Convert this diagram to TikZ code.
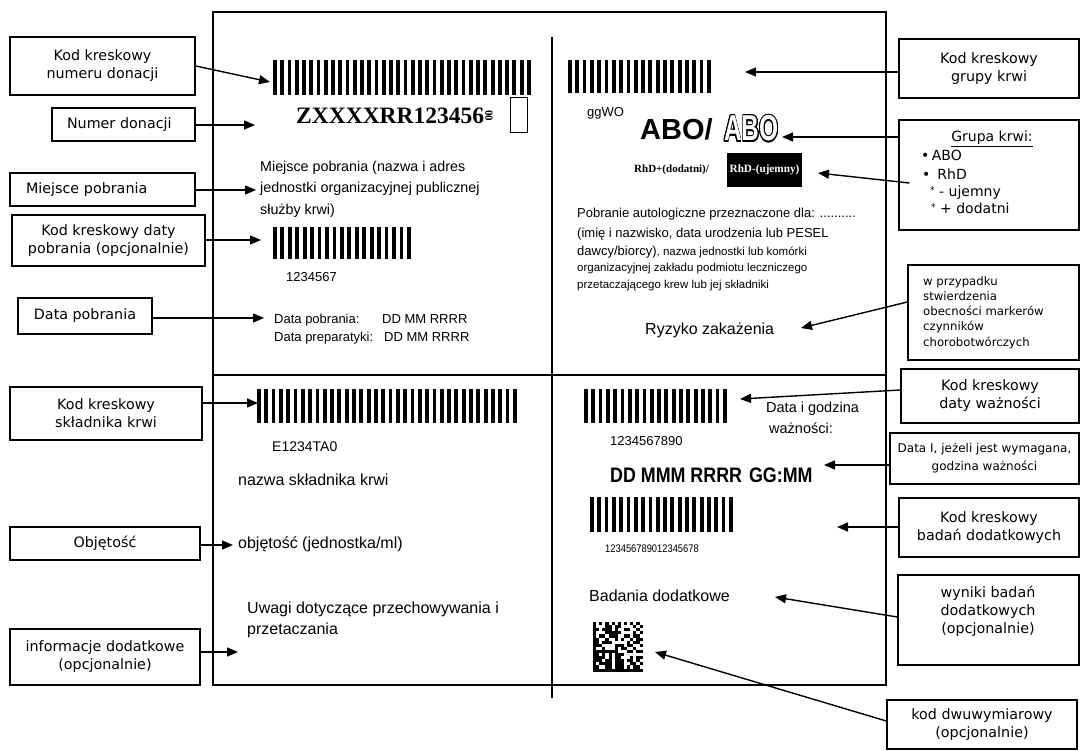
\documentclass[tikz,border=0pt]{standalone}
\usepackage{fontspec}
\setmainfont{Liberation Sans}
\newfontfamily\dv{DejaVu Sans}
\newfontfamily\ser{Liberation Serif}
\newfontfamily\narrow{Liberation Sans}[FakeStretch=0.85]
\usepackage{graphicx}
\usepackage{contour}
\contourlength{1.1pt}
\usetikzlibrary{arrows.meta,calc}
\newcommand\fs[2]{\fontsize{#1}{#2}\selectfont}
\newcommand\barcode[5]{%
  \pgfmathsetmacro\bcp{(#2-#1-4)/(#5-1)}%
  \foreach \k in {1,...,#5}{\fill ({#1+(\k-1)*\bcp},#3) rectangle ++(3.8,#4);}%
}
\begin{document}
\begin{tikzpicture}[x=1pt,y=-1pt,
  cbox/.style={draw, line width=1.4pt, inner sep=0pt, align=center, font=\dv\fs{14.3}{18}},
  arr/.style={line width=1.4pt, -{Triangle[length=11pt,width=9pt]}},
  frameline/.style={line width=1.2pt},
  txt/.style={anchor=base west, inner sep=0pt},
]
\useasboundingbox (0,0) rectangle (1081,751);
% frame
\draw[frameline] (213,12) rectangle (886,685);
\draw[frameline] (213,375) -- (886,375);
\draw[frameline] (552,37) -- (552,698);

% left callouts
\node[cbox, minimum width=185pt, minimum height=58pt] (L1) at (102.5,66) {Kod kreskowy\\numeru donacji};
\node[cbox, minimum width=143pt, minimum height=33pt, text width=113pt, align=left] (L2) at (123.5,124.5) {Numer donacji};
\node[cbox, minimum width=185pt, minimum height=33pt, text width=153pt, align=left] (L3) at (102.5,189.5) {Miejsce pobrania};
\node[cbox, minimum width=193pt, minimum height=51pt] (L4) at (108.5,240.5) {Kod kreskowy daty\\pobrania (opcjonalnie)};
\node[cbox, minimum width=134pt, minimum height=36pt] (L5) at (85,316) {Data pobrania};
\node[cbox, minimum width=192pt, minimum height=53pt] (L6) at (106,413.5) {Kod kreskowy\\składnika krwi};
\node[cbox, minimum width=190pt, minimum height=33pt] (L7) at (105,543.5) {Objętość};
\node[cbox, minimum width=190pt, minimum height=56pt] (L8) at (105,657) {informacje dodatkowe\\(opcjonalnie)};

% right callouts
\node[cbox, minimum width=180pt, minimum height=59pt] (R1) at (989,68.5) {Kod kreskowy\\grupy krwi};
\node[cbox, minimum width=180pt, minimum height=110pt] (R2) at (989,175) {};
\node[anchor=base, inner sep=0pt, font=\dv\fs{14}{14}] (R2h) at (992,142) {\underline{Grupa krwi:}};
\node[txt, font=\dv\fs{14}{14}] (R2a) at (921,161) {•\,ABO};
\node[txt, font=\dv\fs{14}{14}] (R2b) at (922,180) {•\enspace RhD};
\node[txt, font=\dv\fs{14}{14}] (R2c) at (930,197) {\raisebox{3pt}{\fs{9}{9}*} - ujemny};
\node[txt, font=\dv\fs{14}{14}] (R2d) at (931,214) {\raisebox{3pt}{\fs{9}{9}*} + dodatni};
\node[cbox, minimum width=171pt, minimum height=95pt] (R3) at (993.5,312.5) {};
\node[anchor=north west, align=left, inner sep=0pt, font=\dv\fs{11.7}{15.3}] (R3t) at (923,276) {w przypadku\\stwierdzenia\\obecności markerów\\czynników\\chorobotwórczych};
\node[cbox, minimum width=178pt, minimum height=54pt] (R4) at (990,396) {Kod kreskowy\\daty ważności};
\node[cbox, minimum width=189pt, minimum height=51pt, font=\dv\fs{12}{18}] (R5) at (984.5,458.5) {Data I, jeżeli jest wymagana,\\godzina ważności};
\node[cbox, minimum width=180pt, minimum height=59pt] (R6) at (989,527.5) {Kod kreskowy\\badań dodatkowych};
\node[cbox, minimum width=181pt, minimum height=90pt] (R7) at (988.5,620) {};
\node[align=center, inner sep=0pt, font=\dv\fs{14.3}{18}] (R7t) at (988,611) {wyniki badań\\dodatkowych\\(opcjonalnie)};
\node[cbox, minimum width=190pt, minimum height=49pt] (R8) at (982,724.5) {kod dwuwymiarowy\\(opcjonalnie)};

% top-left quadrant
\barcode{273}{531}{60}{35}{36}
\node[txt, font=\ser\bfseries\fs{23.5}{23.5}] (don) at (296,124) {ZXXXXRR123456};
\node[rotate=-90, inner sep=0pt, font=\ser\bfseries\fs{11}{11}] (zz) at (489,116) {00};
\node[draw, line width=1pt, minimum width=17pt, minimum height=35pt, inner sep=0pt] (sq) at (518.5,115.5) {};
\node[txt, font=\fs{14.3}{14.3}] (mp1) at (260,172) {Miejsce pobrania (nazwa i adres};
\node[txt, font=\fs{14.3}{14.3}] (mp2) at (260,193) {jednostki organizacyjnej publicznej};
\node[txt, font=\fs{14.3}{14.3}] (mp3) at (260,215) {służby krwi)};
\barcode{273}{411}{227}{32}{19}
\node[txt, font=\fs{13}{13}] (n1) at (286,282) {1234567};
\node[txt, font=\fs{13}{13}] (dp1) at (274,323) {Data pobrania:};
\node[txt, font=\fs{13}{13}] (dp2) at (382,323) {DD MM RRRR};
\node[txt, font=\fs{13}{13}] (dp3) at (274,341) {Data preparatyki:};
\node[txt, font=\fs{13}{13}] (dp4) at (384,341) {DD MM RRRR};

% bottom-left quadrant
\barcode{257}{517}{389}{34}{36}
\node[txt, font=\fs{14}{14}] (e1) at (272,451) {E1234TA0};
\node[txt, font=\fs{16}{16}] (nsk) at (238,485) {nazwa składnika krwi};
\node[txt, font=\fs{16}{16}] (obj) at (238,548) {objętość (jednostka/ml)};
\node[txt, font=\fs{16}{16}] (uw1) at (247,613) {Uwagi dotyczące przechowywania i};
\node[txt, font=\fs{16}{16}] (uw2) at (247,634) {przetaczania};

% top-right quadrant
\barcode{568}{711}{60}{33}{20}
\node[txt, font=\fs{13}{13}] (gg) at (587,117) {ggWO};
\node[txt, font=\bfseries\fs{29}{29}] (abo1) at (640,140) {ABO/};
\node[txt] (abo2) at (724,141) {\scalebox{0.68}[1]{\fs{36}{36}\bfseries\color{white}\contour{black}{ABO}}};
\node[txt, font=\ser\bfseries\fs{11}{11}] (rhp) at (634,173) {RhD+(dodatni)/};
\node[fill=black, text=white, minimum width=75pt, minimum height=34pt, inner sep=0pt, font=\ser\bfseries\fs{11.2}{11.2}] (rhm) at (764.5,170) {RhD-(ujemny)};
\node[txt, font=\fs{13}{13}] (pa1) at (577,218) {Pobranie autologiczne przeznaczone dla: ..........};
\node[txt, font=\fs{13}{13}] (pa2) at (577,238) {(imię i nazwisko, data urodzenia lub PESEL};
\node[txt, font=\fs{13}{13}] (pa3) at (577,255) {dawcy/biorcy)\fs{11.5}{11.5}, nazwa jednostki lub komórki};
\node[txt, font=\fs{11.5}{11.5}] (pa4) at (577,272) {organizacyjnej zakładu podmiotu leczniczego};
\node[txt, font=\fs{11.5}{11.5}] (pa5) at (577,288) {przetaczającego krew lub jej składniki};
\node[txt, font=\fs{16}{16}] (ryz) at (645,334) {Ryzyko zakażenia};

% bottom-right quadrant
\barcode{584}{727}{389}{34}{20}
\node[txt, font=\fs{13}{13}] (n2) at (610,445) {1234567890};
\node[txt, font=\fs{14.5}{14.5}] (dg1) at (766,412) {Data i godzina};
\node[txt, font=\fs{14.5}{14.5}] (dg2) at (769,433) {ważności:};
\node[txt, font=\narrow\bfseries\fs{21}{21}] (ddt) at (610,482) {DD MMM RRRR\hspace{7pt}GG:MM};
\barcode{590}{733}{497}{35}{20}
\node[txt, font=\narrow\fs{11}{11}] (n3) at (605,552) {123456789012345678};
\node[txt, font=\fs{16}{16}] (bad) at (589,601) {Badania dodatkowe};
% data matrix
\pgfmathsetseed{4242}
\foreach \i in {0,...,15}{\foreach \j in {0,...,15}{%
  \pgfmathrandominteger{\r}{0}{99}%
  \pgfmathtruncatemacro\f{(\i==0)||(\j==15)||((\j==0)&&(mod(\i,2)==0))||((\i==15)&&(mod(\j,2)==1))||((\i>0)&&(\i<15)&&(\j>0)&&(\j<15)&&(\r<50))}%
  \ifnum\f=1 \fill (593+\i*3.1,622+\j*3.1) rectangle ++(3.1,3.1);\fi
}}

% arrow targets
\coordinate (a1) at (270,82);
\coordinate (a2) at (255,125);
\coordinate (a3) at (256,190);
\coordinate (a4) at (261,240);
\coordinate (a5) at (264,318);
\coordinate (a6) at (258,403);
\coordinate (a7) at (233,545);
\coordinate (a8) at (238,652);
\coordinate (b1) at (745,72);
\coordinate (b2) at (782,137);
\coordinate (b3) at (818,173);
\coordinate (b4) at (801,328);
\coordinate (b5) at (740,399);
\coordinate (b6) at (824,465);
\coordinate (b7) at (837,527);
\coordinate (b8) at (775,597);
\coordinate (b9) at (655,652);

\draw[arr] (L1.east) -- (a1);
\draw[arr] (L2.east |- a2) -- (a2);
\draw[arr] (L3.east |- a3) -- (a3);
\draw[arr] (L4.east |- a4) -- (a4);
\draw[arr] (L5.east |- a5) -- (a5);
\draw[arr] (L6.east |- a6) -- (a6);
\draw[arr] (L7.east |- a7) -- (a7);
\draw[arr] (L8.east |- a8) -- (a8);
\draw[arr] (R1.west |- b1) -- (b1);
\draw[arr] (R2.west |- b2) -- (b2);
\draw[arr] ($(R2.west)+(11,8)$) -- (b3);
\draw[arr] ($(R3.west)+(0,-10.5)$) -- (b4);
\draw[arr] ($(R4.west)+(0,-6)$) -- (b5);
\draw[arr] (R5.west |- b6) -- (b6);
\draw[arr] (R6.west |- b7) -- (b7);
\draw[arr] ($(R7.west)+(0,-3)$) -- (b8);
\draw[arr] ($(R8.west)+(0,-3.5)$) -- (b9);
\end{tikzpicture}
\end{document}
